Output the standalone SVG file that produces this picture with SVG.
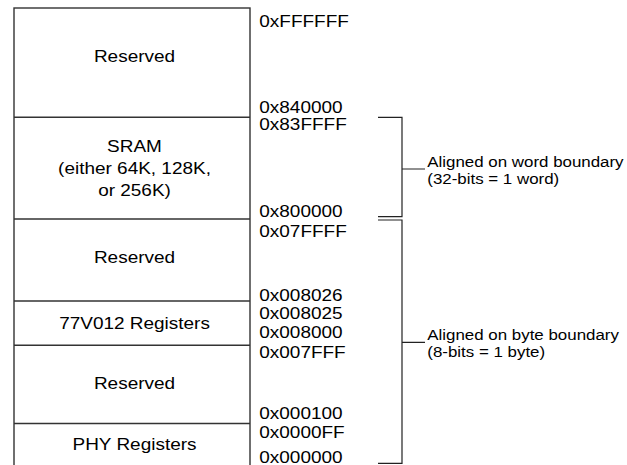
<svg xmlns="http://www.w3.org/2000/svg" width="627" height="465" viewBox="0 0 627 465">
<style>
.box{fill:#fff;stroke:#333;stroke-width:1.4}
.div{stroke:#333;stroke-width:1.4;fill:none}
.br{stroke:#222;stroke-width:1.2;fill:none}
text{font-family:"Liberation Sans",Arial,sans-serif;fill:#000}
.lbl{font-size:16.5px;text-anchor:middle}
.addr{font-size:16.5px}
.note{font-size:14.7px}
</style>
<rect width="627" height="465" fill="#fff"/>
<g id="memory-map">
<rect class="box" x="14" y="8" width="236" height="470"/>
</g>
<g id="reserved-top">
<text class="lbl" transform="translate(134.5 62) scale(1.15 1)">Reserved</text>
</g>
<g id="sram">
<line class="div" x1="14" y1="117.3" x2="250" y2="117.3"/>
<text class="lbl" transform="translate(134.5 152) scale(1.15 1)">SRAM</text>
<text class="lbl" transform="translate(134.5 174) scale(1.15 1)">(either 64K, 128K,</text>
<text class="lbl" transform="translate(134.5 196) scale(1.15 1)">or 256K)</text>
</g>
<g id="reserved-mid">
<line class="div" x1="14" y1="219" x2="250" y2="219"/>
<text class="lbl" transform="translate(134.5 262.5) scale(1.15 1)">Reserved</text>
</g>
<g id="regs-77v012">
<line class="div" x1="14" y1="301" x2="250" y2="301"/>
<text class="lbl" transform="translate(134.5 329) scale(1.15 1)">77V012 Registers</text>
</g>
<g id="reserved-low">
<line class="div" x1="14" y1="345.3" x2="250" y2="345.3"/>
<text class="lbl" transform="translate(134.5 388.5) scale(1.15 1)">Reserved</text>
</g>
<g id="phy-regs">
<line class="div" x1="14" y1="423.5" x2="250" y2="423.5"/>
<text class="lbl" transform="translate(134.5 450) scale(1.15 1)">PHY Registers</text>
</g>
<g id="addresses">
<text class="addr" transform="translate(259.3 27.3) scale(1.15 1)">0xFFFFFF</text>
<text class="addr" transform="translate(259.3 113) scale(1.15 1)">0x840000</text>
<text class="addr" transform="translate(259.3 129.8) scale(1.15 1)">0x83FFFF</text>
<text class="addr" transform="translate(259.3 217) scale(1.15 1)">0x800000</text>
<text class="addr" transform="translate(259.3 237) scale(1.15 1)">0x07FFFF</text>
<text class="addr" transform="translate(259.3 301) scale(1.15 1)">0x008026</text>
<text class="addr" transform="translate(259.3 319) scale(1.15 1)">0x008025</text>
<text class="addr" transform="translate(259.3 338) scale(1.15 1)">0x008000</text>
<text class="addr" transform="translate(259.3 358.3) scale(1.15 1)">0x007FFF</text>
<text class="addr" transform="translate(259.3 419.3) scale(1.15 1)">0x000100</text>
<text class="addr" transform="translate(259.3 438.3) scale(1.15 1)">0x0000FF</text>
<text class="addr" transform="translate(259.3 462.8) scale(1.15 1)">0x000000</text>
</g>
<g id="connectors">
<path class="br" d="M378 117.3H402V216.7H378M402 169H425"/>
<path class="br" d="M378 220H402V463.3H378M402 342.3H425"/>
</g>
<g id="word-note">
<text class="note" transform="translate(427.3 167.3) scale(1.15 1)">Aligned on word boundary</text>
<text class="note" transform="translate(427.3 183.5) scale(1.15 1)">(32-bits = 1 word)</text>
</g>
<g id="byte-note">
<text class="note" transform="translate(427.3 340) scale(1.15 1)">Aligned on byte boundary</text>
<text class="note" transform="translate(427.3 356.5) scale(1.15 1)">(8-bits = 1 byte)</text>
</g>
</svg>
